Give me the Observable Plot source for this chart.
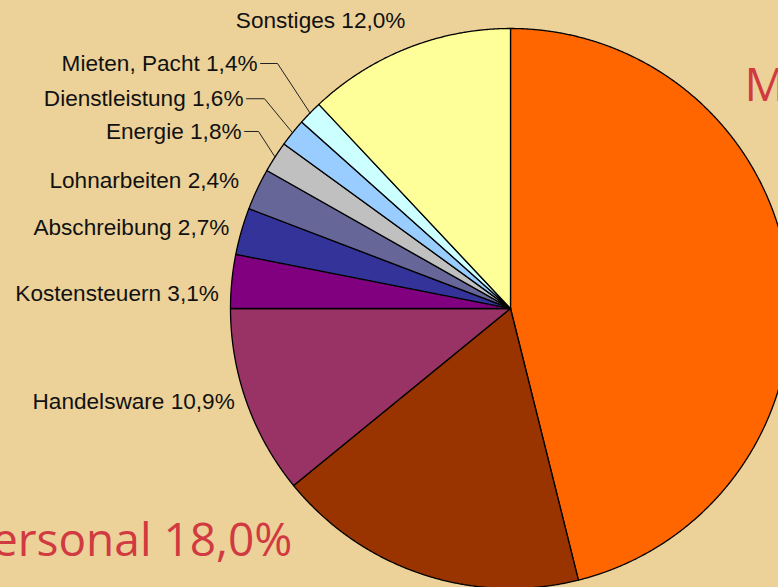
<!DOCTYPE html>
<html><head><meta charset="utf-8">
<script src="https://cdn.jsdelivr.net/npm/d3@7"></script>
<script src="https://cdn.jsdelivr.net/npm/@observablehq/plot@0.6"></script>
<style>html,body{margin:0;padding:0;background:#ECD198;overflow:hidden}</style>
</head><body><div id="chart"></div>
<script>
// ---- data ----
const categories = ["Material", "Personal", "Handelsware", "Kostensteuern", "Abschreibung",
  "Lohnarbeiten", "Energie", "Dienstleistung", "Mieten, Pacht", "Sonstiges"];
const shares = [46.1, 18.0, 10.9, 3.1, 2.7, 2.4, 1.8, 1.6, 1.4, 12.0];
const colors = ["#FF6600", "#993300", "#993366", "#800080", "#333399",
  "#666699", "#C0C0C0", "#99CCFF", "#CCFFFF", "#FFFF99"];

// ---- layout (pixels) ----
const W = 778, H = 587, CX = 510, CY = 308, R = 280;
// label nudges from slice mid-arc point, in px (dx right, dy down)
const labelNudge = {
  "Material": [-44, -188], "Personal": [-130, -33], "Handelsware": [-12, -1],
  "Kostensteuern": [-13, 12], "Abschreibung": [-12, -3], "Lohnarbeiten": [-18, -9],
  "Energie": [-33.5, -25.5], "Dienstleistung": [-49, -34], "Mieten, Pacht": [-52.5, -49.5],
  "Sonstiges": [-2, -27.6]
};
const leaderKnee = {"Energie": 17, "Dienstleistung": 21, "Mieten, Pacht": 20};

const fmt = v => v.toFixed(1).replace(".", ",") + "%";
const arcs = d3.pie().sort(null).value(d => d)(shares);

const slices = [];
arcs.forEach((a, i) => {
  const cat = categories[i];
  slices.push({cat, x: 0, y: 0});
  const n = Math.max(2, Math.ceil((a.endAngle - a.startAngle) / 0.004));
  for (let k = 0; k <= n; k++) {
    const t = a.startAngle + (a.endAngle - a.startAngle) * k / n;
    slices.push({cat, x: Math.sin(t), y: Math.cos(t)});
  }
});

const labels = arcs.map((a, i) => {
  const cat = categories[i];
  const mid = (a.startAngle + a.endAngle) / 2;
  const ax = Math.sin(mid), ay = Math.cos(mid);
  const [dx, dy] = labelNudge[cat];
  return {cat, text: `${cat} ${fmt(shares[i])}`, ax, ay, x: ax + dx / R, y: ay - dy / R};
});
const leaders = [];
labels.forEach(l => {
  if (leaderKnee[l.cat] != null) {
    leaders.push({cat: l.cat, x: l.x + 3 / R, y: l.y});
    leaders.push({cat: l.cat, x: l.x + leaderKnee[l.cat] / R, y: l.y});
    leaders.push({cat: l.cat, x: l.ax, y: l.ay});
  }
});
const big = ["Material", "Personal"];
const smallLabels = labels.filter(l => !big.includes(l.cat));

const chart = Plot.plot({
  width: W, height: H, margin: 0,
  style: {background: "#ECD198"},
  x: {domain: [-CX / R, (W - CX) / R], axis: null},
  y: {domain: [(CY - H) / R, CY / R], axis: null},
  color: {domain: categories, range: colors},
  marks: [
    Plot.line(slices, {x: "x", y: "y", z: "cat", fill: "cat", stroke: "#000", strokeWidth: 1.3, curve: "linear-closed", strokeLinejoin: "round"}),
    Plot.line(leaders, {x: "x", y: "y", z: "cat", stroke: "#222", strokeWidth: 1}),
    Plot.text(smallLabels, {x: "x", y: "y", text: "text", textAnchor: "end", fontSize: 22.6, fontFamily: "Liberation Sans, Arial, sans-serif", fill: "#111"}),
    Plot.text(labels.filter(l => l.cat === "Personal"), {x: "x", y: "y", text: "text", textAnchor: "end", fontSize: 46, fontFamily: "Open Sans, sans-serif", fill: "#D03A40"}),
    Plot.text(labels.filter(l => l.cat === "Material"), {x: "x", y: "y", text: "text", textAnchor: "start", fontSize: 46, fontFamily: "Open Sans, sans-serif", fill: "#D03A40"})
  ]
});
document.getElementById("chart").appendChild(chart);
</script>
</body></html>
